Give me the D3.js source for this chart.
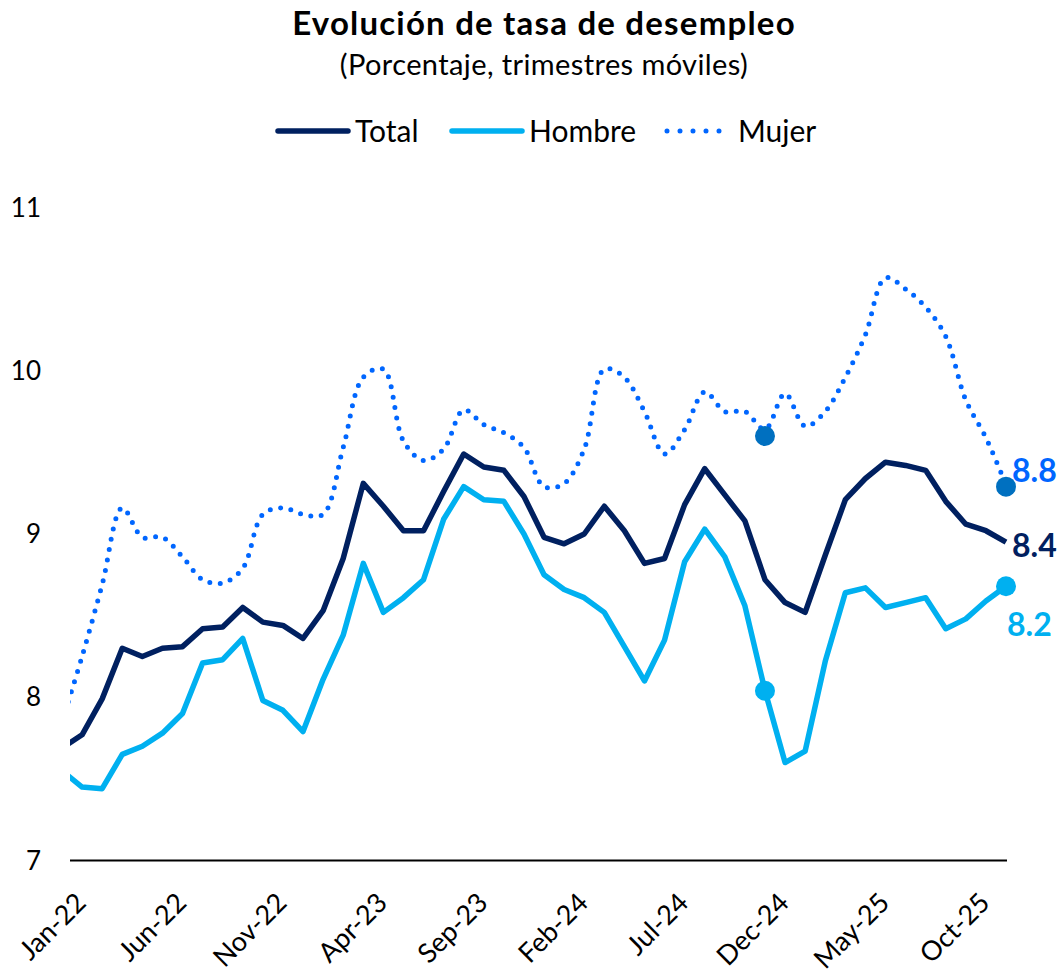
<!DOCTYPE html>
<html lang="es">
<head>
<meta charset="UTF-8">
<title>Evolución de tasa de desempleo</title>
<script src="https://d3js.org/d3.v7.min.js"></script>
<style>
  body { margin: 0; background: #fff; }
  svg { display: block; font-family: Lato, "Noto Sans", sans-serif; }
</style>
</head>
<body>
<div id="chart"></div>
<script>
// meses (el primero queda recortado por el borde del área de trazado)
const months = ["Dec-21",
  "Jan-22","Feb-22","Mar-22","Apr-22","May-22","Jun-22","Jul-22","Aug-22","Sep-22","Oct-22","Nov-22","Dec-22",
  "Jan-23","Feb-23","Mar-23","Apr-23","May-23","Jun-23","Jul-23","Aug-23","Sep-23","Oct-23","Nov-23","Dec-23",
  "Jan-24","Feb-24","Mar-24","Apr-24","May-24","Jun-24","Jul-24","Aug-24","Sep-24","Oct-24","Nov-24","Dec-24",
  "Jan-25","Feb-25","Mar-25","Apr-25","May-25","Jun-25","Jul-25","Aug-25","Sep-25","Oct-25","Nov-25"];

const total = [7.69, 7.77, 7.99, 8.30, 8.25, 8.30, 8.31, 8.42, 8.43, 8.55, 8.46, 8.44, 8.36,
  8.53, 8.85, 9.31, 9.17, 9.02, 9.02, 9.26, 9.49, 9.41, 9.39, 9.23, 8.98,
  8.94, 9.00, 9.17, 9.02, 8.82, 8.85, 9.18, 9.40, 9.24, 9.08, 8.72, 8.58,
  8.52, 8.87, 9.21, 9.34, 9.44, 9.42, 9.39, 9.20, 9.06, 9.02, 8.95];

const hombre = [7.55, 7.45, 7.44, 7.65, 7.70, 7.78, 7.90, 8.21, 8.23, 8.36, 7.98, 7.92, 7.79,
  8.11, 8.38, 8.82, 8.52, 8.61, 8.72, 9.09, 9.29, 9.21, 9.20, 9.00, 8.75,
  8.66, 8.61, 8.52, 8.31, 8.10, 8.35, 8.83, 9.03, 8.86, 8.56, 8.04, 7.60,
  7.67, 8.22, 8.64, 8.67, 8.55, 8.58, 8.61, 8.42, 8.48, 8.59, 8.68];

const mujer = [7.85, 8.25, 8.69, 9.16, 8.98, 8.98, 8.86, 8.72, 8.70, 8.79, 9.12, 9.16, 9.12,
  9.12, 9.53, 9.96, 10.01, 9.57, 9.45, 9.52, 9.76, 9.67, 9.62, 9.53, 9.29,
  9.31, 9.52, 10.01, 9.96, 9.75, 9.49, 9.64, 9.87, 9.75, 9.75, 9.64, 9.86,
  9.66, 9.75, 9.96, 10.22, 10.57, 10.50, 10.39, 10.21, 9.82, 9.59, 9.30];

// puntos destacados (mismo mes del año anterior y último dato)
const dotMonths = ["Nov-24", "Nov-25"];
const mujerDots = [9.60, 9.29];
const hombreDots = [8.04, 8.68];

// etiquetas finales
const endLabels = ["8.8", "8.4", "8.2"];

const xTicks = ["Jan-22","Jun-22","Nov-22","Apr-23","Sep-23","Feb-24","Jul-24","Dec-24","May-25","Oct-25"];
const yTicks = [7, 8, 9, 10, 11];

const colTotal = "#002060", colHombre = "#00B0F0", colMujer = "#0066FF", colMujerDot = "#0070C0";

const width = 1063, height = 979;
const svg = d3.select("#chart").append("svg")
  .attr("width", width).attr("height", height);

const x = d3.scalePoint().domain(months).range([62, 1006]);
const y = d3.scaleLinear().domain([7, 11]).range([860.5, 207.5]);

// título
svg.append("text").attr("x", 544).attr("y", 35)
  .attr("text-anchor", "middle").attr("font-size", 33).attr("font-weight", "bold")
  .attr("letter-spacing", 1.2)
  .attr("fill", "#000").text("Evolución de tasa de desempleo");
svg.append("text").attr("x", 544).attr("y", 75)
  .attr("text-anchor", "middle").attr("font-size", 29).attr("fill", "#000")
  .attr("letter-spacing", 0.4)
  .text("(Porcentaje, trimestres móviles)");

// leyenda
const legend = [
  {name: "Total", color: colTotal, dotted: false, x0: 278},
  {name: "Hombre", color: colHombre, dotted: false, x0: 452},
  {name: "Mujer", color: colMujer, dotted: true, x0: 667}
];
const lg = svg.append("g");
legend.forEach(d => {
  lg.append("line").attr("x1", d.x0).attr("x2", d.x0 + (d.dotted ? 65 : 70)).attr("y1", 131).attr("y2", 131)
    .attr("stroke", d.color).attr("stroke-width", d.dotted ? 5 : 5.5)
    .attr("stroke-linecap", "round")
    .attr("stroke-dasharray", d.dotted ? "0 13" : null);
  lg.append("text").attr("x", d.x0 + (d.dotted ? 71 : 77)).attr("y", 142)
    .attr("font-size", 30).attr("fill", "#000").text(d.name);
});

// eje Y (solo etiquetas)
svg.append("g").selectAll("text").data(yTicks).join("text")
  .attr("x", 41).attr("y", d => y(d) + 9)
  .attr("text-anchor", "end").attr("font-size", 26).attr("fill", "#000")
  .text(d => d);

// línea base
svg.append("line").attr("x1", 70).attr("x2", 1007)
  .attr("y1", y(7)).attr("y2", y(7))
  .attr("stroke", "#000").attr("stroke-width", 2);

// eje X
const xAxis = svg.append("g").attr("transform", `translate(0,${y(7)})`)
  .call(d3.axisBottom(x).tickValues(xTicks).tickSize(0).tickPadding(0));
xAxis.select(".domain").remove();
xAxis.selectAll("text")
  .attr("font-size", 27).attr("font-family", "Lato, 'Noto Sans', sans-serif")
  .attr("fill", "#000")
  .attr("text-anchor", "end")
  .attr("dy", null).attr("y", 0)
  .attr("transform", "translate(5,44) rotate(-45)");

// recorte del área de trazado
svg.append("clipPath").attr("id", "plot")
  .append("rect").attr("x", 70).attr("y", 150).attr("width", 1000).attr("height", 720);

const lineGen = d3.line().x((d, i) => x(months[i])).y(d => y(d));
const smoothGen = d3.line().x((d, i) => x(months[i])).y(d => y(d)).curve(d3.curveCatmullRom.alpha(0.5));

const plot = svg.append("g").attr("clip-path", "url(#plot)");

plot.append("path").datum(mujer).attr("d", smoothGen)
  .attr("fill", "none").attr("stroke", colMujer).attr("stroke-width", 5)
  .attr("stroke-linecap", "round").attr("stroke-dasharray", "0 10.5");

plot.append("path").datum(hombre).attr("d", lineGen)
  .attr("fill", "none").attr("stroke", colHombre).attr("stroke-width", 5.5)
  .attr("stroke-linejoin", "round");

plot.append("path").datum(total).attr("d", lineGen)
  .attr("fill", "none").attr("stroke", colTotal).attr("stroke-width", 5.5)
  .attr("stroke-linejoin", "round");

// puntos destacados
svg.append("g").selectAll("circle.m").data(mujerDots).join("circle")
  .attr("cx", (d, i) => x(dotMonths[i])).attr("cy", d => y(d)).attr("r", 10)
  .attr("fill", colMujerDot);
svg.append("g").selectAll("circle.h").data(hombreDots).join("circle")
  .attr("cx", (d, i) => x(dotMonths[i])).attr("cy", d => y(d)).attr("r", 10)
  .attr("fill", colHombre);

// etiquetas de los últimos valores
const last = months.length - 1;
const labelSpec = [
  {v: mujer[last], color: "#0066FF", dx: 6, dy: -3.5},
  {v: total[last], color: colTotal, dx: 6, dy: 14.5},
  {v: hombre[last], color: colHombre, dx: 1, dy: 50}
];
labelSpec.forEach((s, i) => {
  svg.append("text").attr("x", x(months[last]) + s.dx).attr("y", y(s.v) + s.dy)
    .attr("font-size", 32).attr("font-weight", "bold").attr("fill", s.color)
    .text(endLabels[i]);
});
</script>
</body>
</html>
